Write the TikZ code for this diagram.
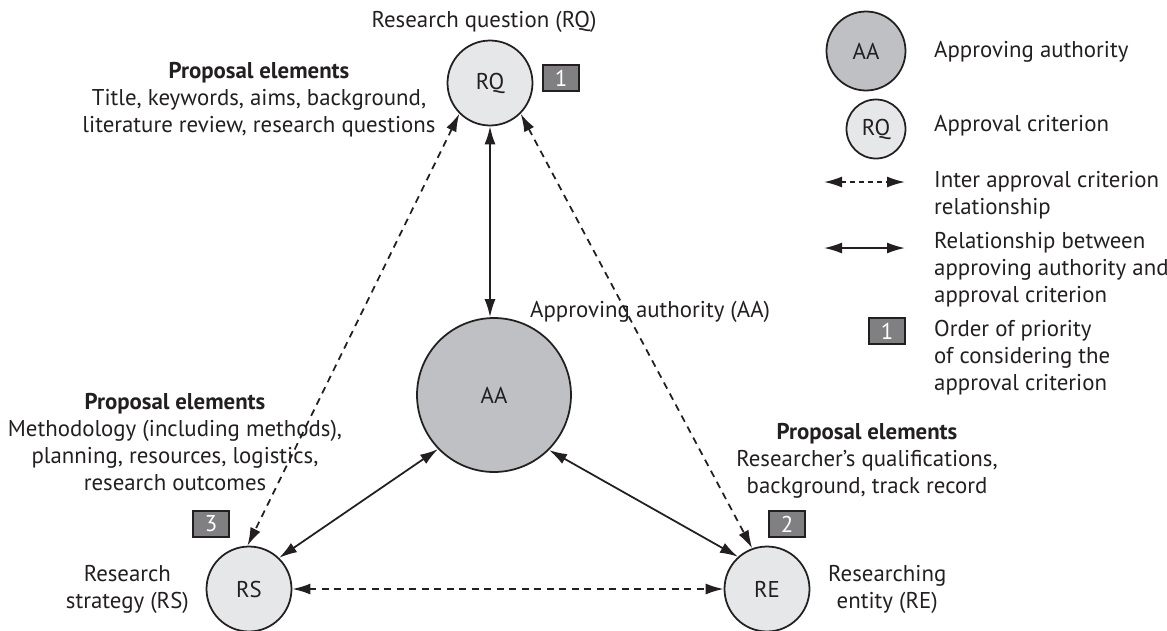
\documentclass[tikz,border=0pt]{standalone}
\usepackage{fontspec}
\setmainfont{PT Sans}
\usetikzlibrary{arrows.meta}
\definecolor{authfill}{RGB}{190,192,195}
\definecolor{critfill}{RGB}{230,231,232}
\definecolor{priofill}{RGB}{128,128,130}
\definecolor{ink}{RGB}{35,31,32}
\begin{document}
\begin{tikzpicture}[x=0.02cm,y=-0.02cm,
  every node/.style={font=\fontsize{13}{15.4}\selectfont, text=ink},
  crit/.style={circle,draw=ink,line width=1pt,fill=critfill,minimum size=1.7cm,inner sep=0pt},
  auth/.style={circle,draw=ink,line width=1pt,fill=authfill,minimum size=3.08cm,inner sep=0pt},
  prio/.style={draw=ink,line width=0.6pt,fill=priofill,text=white,minimum width=0.72cm,minimum height=0.52cm,inner sep=0pt},
  rel/.style={draw=ink,line width=1pt,{Latex[length=0.36cm,width=0.22cm]}-{Latex[length=0.36cm,width=0.22cm]}},
  inter/.style={rel,dash pattern=on 0.14cm off 0.11cm},
  lbl/.style={align=center},
  leg/.style={anchor=west,align=left}]
\useasboundingbox (0,0) rectangle (1167,630);

% approving authority and the three approval criteria
\node[auth] (AA) at (494,395) {AA};
\node[crit] (RQ) at (490,83) {RQ};
\node[crit] (RS) at (249,589) {RS};
\node[crit] (RE) at (767,589) {RE};

% priority boxes
\node[prio] (p1) at (561,78) {1};
\node[prio] (p2) at (787,524) {2};
\node[prio] (p3) at (211,524) {3};

% labels
\node[lbl] (tRQ) at (484,22) {Research question (RQ)};
\node[lbl,anchor=west] (tAA) at (524,312) {Approving authority (AA)};
\node[lbl,anchor=east] (tRS) at (195,589) {Research\\strategy (RS)};
\node[lbl,anchor=west] (tRE) at (822,589) {Researching\\entity (RE)};
\node[lbl] (eRQ) at (259,100) {\textbf{Proposal elements}\\Title, keywords, aims, background,\\literature review, research questions};
\node[lbl] (eRS) at (175,442) {\textbf{Proposal elements}\\Methodology (including methods),\\planning, resources, logistics,\\research outcomes};
\node[lbl] (eRE) at (867,461) {\textbf{Proposal elements}\\Researcher’s qualifications,\\background, track record};

% relationships
\draw[rel] (RQ.south) -- (RQ.south |- AA.north);
\draw[rel] (AA.224) -- (RS.46);
\draw[rel] (AA.315) -- (RE.132);
\draw[inter] (RQ.225) -- (RS.92);
\draw[inter] (RQ.315) -- (RE.110);
\draw[inter] (RS) -- (RE);

% legend
\node[auth,minimum size=1.58cm] (lAA) at (866,51) {AA};
\node[leg] (lAAt) at (928,52) {Approving authority};
\node[crit,minimum size=1.18cm] (lRQ) at (876,129) {RQ};
\node[leg] (lRQt) at (928,126) {Approval criterion};
\coordinate (d1) at (824,182);
\coordinate (d2) at (905,182);
\draw[inter,dash pattern=on 0.1cm off 0.08cm] (d1) -- (d2);
\node[leg] (ldt) at (928,195) {Inter approval criterion\\relationship};
\coordinate (s1) at (824,248);
\coordinate (s2) at (905,248);
\draw[rel] (s1) -- (s2);
\node[leg] (lst) at (928,270) {Relationship between\\approving authority and\\approval criterion};
\node[prio] (lp) at (887,331) {1};
\node[leg] (lpt) at (928,358) {Order of priority\\of considering the\\approval criterion};
\end{tikzpicture}
\end{document}
